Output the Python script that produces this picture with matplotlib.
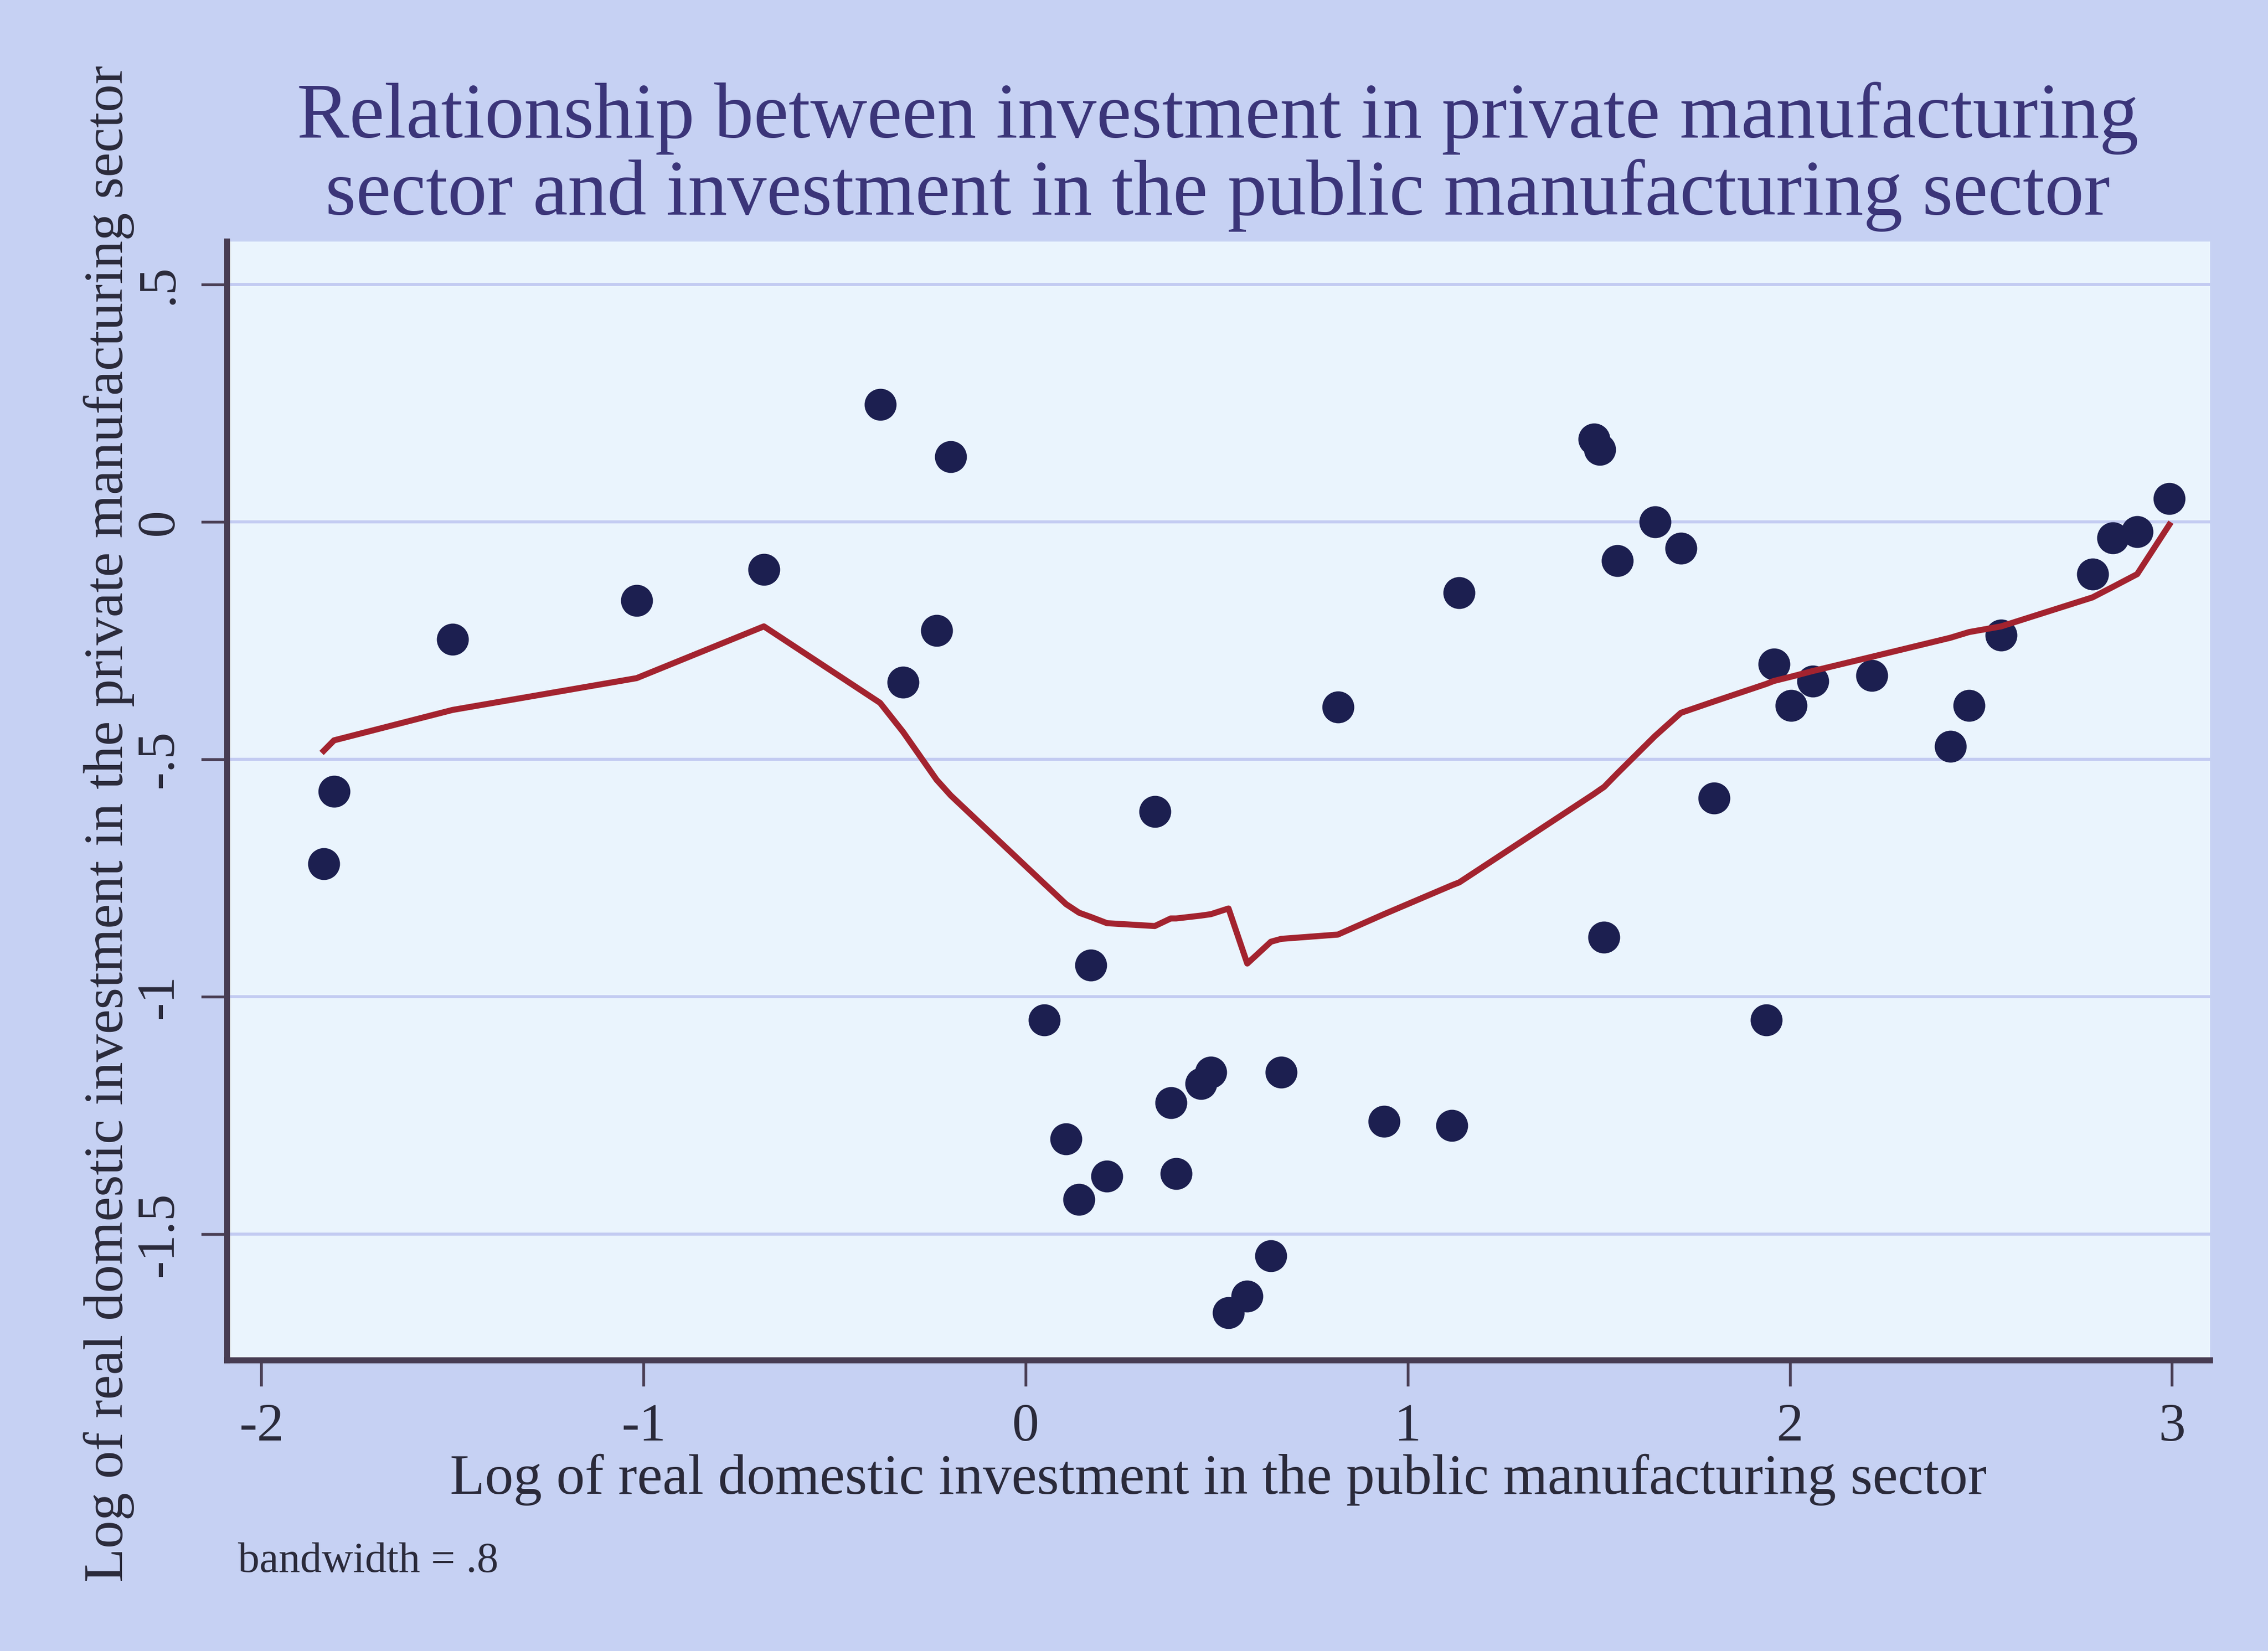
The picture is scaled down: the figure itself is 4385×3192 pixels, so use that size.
import numpy as np
import matplotlib.pyplot as plt

# log of public manufacturing investment (x) vs private (y), with lowess fit
public_inv = [-1.837, -1.81, -1.50, -1.018, -0.685, -0.381, -0.321, -0.233, -0.196,
              0.049, 0.106, 0.140, 0.171, 0.213, 0.338, 0.380, 0.394, 0.459, 0.485,
              0.531, 0.580, 0.642, 0.669, 0.817, 0.938, 1.116, 1.135, 1.487, 1.503,
              1.514, 1.548, 1.647, 1.715, 1.802, 1.939, 1.958, 2.003, 2.060, 2.215,
              2.420, 2.469, 2.553, 2.792, 2.845, 2.909, 2.993]
private_inv = [-0.72, -0.567, -0.247, -0.165, -0.10, 0.247, -0.338, -0.229, 0.137,
               -1.049, -1.299, -1.427, -0.933, -1.378, -0.61, -1.223, -1.372, -1.183, -1.159,
               -1.665, -1.63, -1.546, -1.159, -0.39, -1.262, -1.271, -0.149, 0.174, 0.152,
               -0.875, -0.082, 0.0, -0.055, -0.582, -1.049, -0.299, -0.387, -0.335, -0.323,
               -0.473, -0.387, -0.238, -0.11, -0.034, -0.021, 0.049]
lowess_fit = [-0.482, -0.46, -0.396, -0.329, -0.22, -0.381, -0.442, -0.543, -0.576,
              -0.762, -0.805, -0.823, -0.832, -0.845, -0.851, -0.835, -0.835, -0.829, -0.826,
              -0.814, -0.93, -0.884, -0.878, -0.869, -0.826, -0.765, -0.759, -0.573, -0.564,
              -0.558, -0.530, -0.451, -0.402, -0.378, -0.341, -0.335, -0.326, -0.314, -0.284,
              -0.244, -0.232, -0.22, -0.159, -0.137, -0.11, -0.006]

x_ticks = [-2, -1, 0, 1, 2, 3]
x_ticklabels = ['-2', '-1', '0', '1', '2', '3']
y_ticks = [-1.5, -1, -0.5, 0, 0.5]
y_ticklabels = ['-1.5', '-1', '-.5', '0', '.5']

plt.rcParams['font.family'] = ['Liberation Serif', 'DejaVu Serif']

fig = plt.figure(figsize=(14.6167, 10.64), dpi=300, facecolor='#c6d1f3')
ax = fig.add_axes([0.1001, 0.1762, 0.8744, 0.6774])
ax.set_facecolor('#eaf4fd')

ax.scatter(public_inv, private_inv, s=220, color='#1c1f50', zorder=3, linewidths=0)
ax.plot(public_inv, lowess_fit, color='#a3232f', lw=2.8, zorder=4,
        solid_joinstyle='round')

ax.set_xlim(-2.09, 3.1)
ax.set_ylim(-1.765, 0.59)
ax.set_xticks(x_ticks)
ax.set_xticklabels(x_ticklabels, fontsize=25, color='#2a2a3a')
ax.set_yticks(y_ticks)
ax.set_yticklabels(y_ticklabels, fontsize=25, color='#2a2a3a', rotation=90, va='center')
ax.tick_params(axis='both', length=12, width=1.3, color='#4a3f55', pad=8)
ax.yaxis.grid(True, color='#c3cbf2', lw=1.4)
ax.set_axisbelow(True)

for side in ['top', 'right']:
    ax.spines[side].set_visible(False)
for side in ['left', 'bottom']:
    ax.spines[side].set_color('#473c52')
    ax.spines[side].set_linewidth(2.8)

ax.set_xlabel('Log of real domestic investment in the public manufacturing sector',
              fontsize=26.5, color='#2a2a3a', labelpad=1)
fig.text(0.048, 0.501, 'Log of real domestic investment in the private manufacturing sector',
         rotation=90, ha='center', va='center', fontsize=25.9, color='#2a2a3a')

fig.text(0.537, 0.905, 'Relationship between investment in private manufacturing\n'
         'sector and investment in the public manufacturing sector',
         ha='center', va='center', fontsize=36.5, color='#3b3579', linespacing=1.07)

fig.text(0.105, 0.048, 'bandwidth = .8', fontsize=20, color='#2a2a3a')

fig.savefig('out.png', dpi=300, facecolor=fig.get_facecolor())
